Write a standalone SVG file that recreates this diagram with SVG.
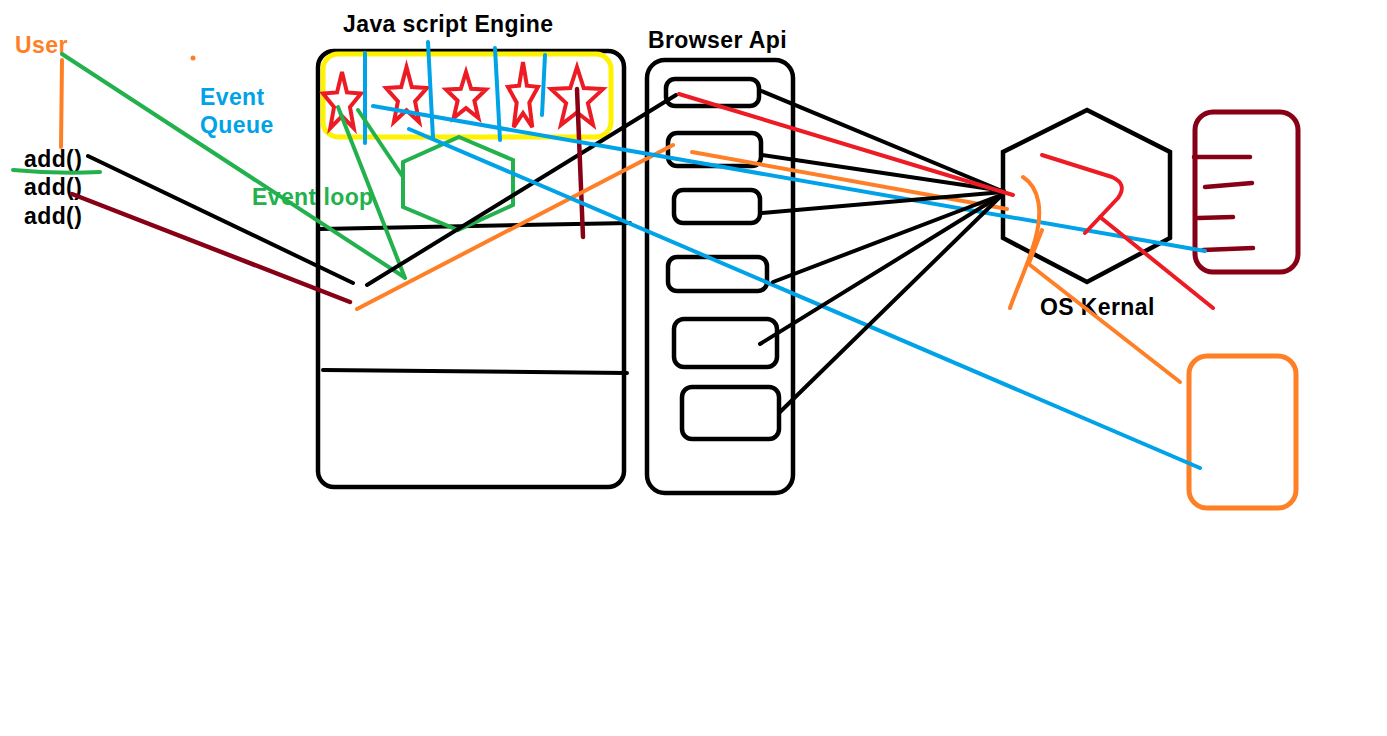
<svg xmlns="http://www.w3.org/2000/svg" xmlns:xlink="http://www.w3.org/1999/xlink" width="1387" height="736" viewBox="0 0 1387 736">
<style>
text{font-family:"Liberation Sans",Arial,sans-serif;font-weight:bold;font-size:23px;letter-spacing:0.4px}
.k{stroke:#000;fill:none;stroke-width:4;stroke-linecap:round;stroke-linejoin:round}
.box{stroke:#000;fill:none;stroke-width:4.5}
.bl{stroke:#00A2E8;fill:none;stroke-width:4;stroke-linecap:round}
.gr{stroke:#22B14C;fill:none;stroke-width:4;stroke-linecap:round}
.or{stroke:#FF7F27;fill:none;stroke-width:4;stroke-linecap:round;stroke-linejoin:round}
.rd{stroke:#ED1C24;fill:none;stroke-width:4;stroke-linecap:round;stroke-linejoin:round}
.mr{stroke:#880015;fill:none;stroke-width:4.5;stroke-linecap:round}
.starc{stroke:#ED1C24;fill:none;stroke-width:4;vector-effect:non-scaling-stroke}
</style>
<defs>
<polygon id="star" class="starc" points="0,-1 0.247,-0.340 0.951,-0.309 0.399,0.130 0.588,0.809 0,0.42 -0.588,0.809 -0.399,0.130 -0.951,-0.309 -0.247,-0.340"/>
</defs>
<rect width="1387" height="736" fill="#fff"/>

<g id="js-engine">
<rect class="box" x="318" y="51" width="306" height="436" rx="16"/>
<line class="k" x1="320" y1="229" x2="630" y2="223"/>
<line class="k" x1="323" y1="370" x2="627" y2="373"/>
<text x="343" y="32" fill="#000">Java script Engine</text>
</g>

<g id="event-queue">
<rect x="323" y="54" width="288" height="83" rx="15" fill="none" stroke="#FFF200" stroke-width="5"/>
<use xlink:href="#star" transform="translate(342,103) scale(20,31)"/>
<use xlink:href="#star" transform="translate(406.5,97.4) scale(21.5,30.4)"/>
<use xlink:href="#star" transform="translate(466,97.4) scale(21,25.4)"/>
<use xlink:href="#star" transform="translate(523,98) scale(15.8,36)"/>
<use xlink:href="#star" transform="translate(577,99) scale(27.3,32)"/>
<line class="bl" x1="365" y1="53" x2="365" y2="143"/>
<line class="bl" x1="428" y1="42" x2="433" y2="138"/>
<line class="bl" x1="495" y1="48" x2="500" y2="140"/>
<line class="bl" x1="545" y1="55" x2="542" y2="115"/>
<text x="200" y="105" fill="#00A2E8">Event</text>
<text x="200" y="133" fill="#00A2E8">Queue</text>
</g>

<g id="event-loop">
<polygon class="gr" points="459,137 513,160 513,205 458,230 403,207 403,162"/>
<text x="252" y="205" fill="#22B14C">Event loop</text>
</g>

<g id="user">
<text x="15" y="53" fill="#FF7F27">User</text>
<line class="or" x1="62" y1="60" x2="61" y2="147"/>
<circle cx="193" cy="58" r="2.5" fill="#FF7F27"/>
</g>

<g id="calls">
<text x="24" y="167" fill="#000">add()</text>
<text x="24" y="195" fill="#000">add()</text>
<text x="24" y="224" fill="#000">add()</text>
<path class="gr" d="M13,170 Q55,174 100,172"/>
</g>

<g id="browser-api">
<rect class="box" x="647" y="60" width="146" height="433" rx="18"/>
<rect class="box" x="666" y="79" width="93" height="27" rx="9"/>
<rect class="box" x="668" y="133" width="93" height="33" rx="9"/>
<rect class="box" x="674" y="190" width="86" height="33" rx="9"/>
<rect class="box" x="668" y="257" width="99" height="34" rx="9"/>
<rect class="box" x="674" y="319" width="103" height="48" rx="10"/>
<rect class="box" x="682" y="387" width="97" height="52" rx="10"/>
<text x="648" y="48" fill="#000">Browser Api</text>
</g>

<g id="os-kernel">
<polygon class="box" points="1087,110 1170,152 1170,238 1087,282 1003,238 1003,152"/>
<text x="1040" y="315" fill="#000">OS Kernal</text>
</g>

<g id="device-maroon">
<rect x="1195" y="112" width="103" height="160" rx="18" fill="none" stroke="#880015" stroke-width="5"/>
<line class="mr" x1="1194" y1="157" x2="1250" y2="157"/>
<line class="mr" x1="1205" y1="187" x2="1252" y2="183"/>
<line class="mr" x1="1198" y1="218" x2="1233" y2="217"/>
<line class="mr" x1="1203" y1="250" x2="1253" y2="248"/>
</g>

<g id="device-orange">
<rect x="1189" y="356" width="107" height="152" rx="18" fill="none" stroke="#FF7F27" stroke-width="5"/>
</g>

<g id="connectors">
<line class="gr" x1="62" y1="54" x2="404" y2="277"/>
<line class="gr" x1="338" y1="107" x2="405" y2="278"/>
<line class="gr" x1="358" y1="110" x2="403" y2="177"/>
<line class="k" x1="88" y1="156" x2="353" y2="283"/>
<line class="k" x1="367" y1="285" x2="676" y2="95"/>
<line class="mr" x1="72" y1="194" x2="350" y2="302"/>
<line class="mr" x1="577" y1="89" x2="583" y2="237"/>
<line class="or" x1="357" y1="309" x2="673" y2="145"/>
<line class="or" x1="692" y1="152" x2="1007" y2="209"/>
<line class="bl" x1="373" y1="106" x2="1205" y2="251"/>
<line class="bl" x1="409" y1="129" x2="1200" y2="468"/>
<line class="k" x1="759" y1="90" x2="1002" y2="191"/>
<line class="k" x1="762" y1="155" x2="1004" y2="191"/>
<line class="k" x1="762" y1="213" x2="1003" y2="192"/>
<line class="k" x1="773" y1="282" x2="1001" y2="195"/>
<line class="k" x1="760" y1="344" x2="1003" y2="194"/>
<line class="k" x1="780" y1="412" x2="1004" y2="193"/>
<line class="rd" x1="679" y1="94" x2="1013" y2="195"/>
<path class="rd" d="M1042,155 L1112,177 Q1128,184 1118,198 L1085,233"/>
<line class="rd" x1="1100" y1="217" x2="1213" y2="308"/>
<path class="or" d="M1023,177 C1040,188 1043,212 1035,240 C1028,265 1018,285 1010,308"/>
<line class="or" x1="1042" y1="230" x2="1029" y2="263"/>
<line class="or" x1="1030" y1="265" x2="1180" y2="382"/>
</g>
</svg>
